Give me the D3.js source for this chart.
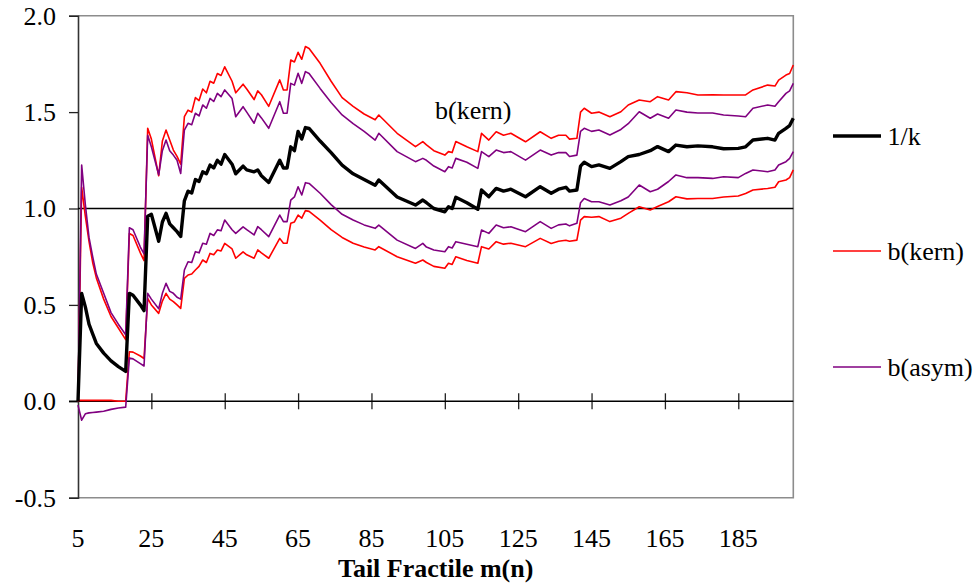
<!DOCTYPE html>
<html>
<head>
<meta charset="utf-8">
<script src="https://cdn.jsdelivr.net/npm/d3@7"></script>
<style>
  html, body { margin: 0; padding: 0; background: #fff; }
  svg { display: block; }
</style>
</head>
<body>
<svg id="chart" width="977" height="588"></svg>
<script>
// Tail fractile m(n)
const m = [
  5, 6, 7, 8, 9, 10, 12, 14, 16, 18,
  19, 20, 22, 23, 24, 25, 27, 28, 29, 30,
  31, 32, 33, 34, 35, 36, 37, 38, 39, 40,
  41, 42, 43, 44, 45, 47, 48, 50, 51, 53,
  54, 55, 57, 60, 61, 62, 63, 64, 65, 66,
  67, 68, 71, 74, 77, 80, 83, 86, 87, 92,
  97, 99, 100, 102, 105, 106, 107, 108, 111, 114,
  115, 117, 119, 121, 123, 127, 131, 134, 136, 138,
  139, 141, 142, 143, 145, 147, 150, 153, 155, 158,
  161, 163, 166, 168, 171, 174, 178, 181, 185, 187,
  189, 193, 195, 196, 198, 199, 200
];

// 1/k estimate
const invK = [
  0.00, 0.56, 0.49, 0.40, 0.35, 0.30, 0.25, 0.21, 0.18, 0.155,
  0.56, 0.55, 0.50, 0.47, 0.96, 0.97, 0.83, 0.93, 0.975, 0.92,
  0.90, 0.88, 0.855, 1.04, 1.09, 1.08, 1.15, 1.14, 1.19, 1.18,
  1.225, 1.21, 1.25, 1.23, 1.28, 1.23, 1.18, 1.22, 1.20, 1.19,
  1.20, 1.17, 1.135, 1.25, 1.21, 1.21, 1.32, 1.30, 1.40, 1.36,
  1.42, 1.415, 1.35, 1.29, 1.225, 1.18, 1.15, 1.12, 1.148, 1.06,
  1.018, 1.044, 1.03, 1.00, 0.983, 1.009, 1.00, 1.058, 1.03, 0.996,
  1.096, 1.061, 1.104, 1.09, 1.10, 1.061, 1.113, 1.079, 1.10, 1.11,
  1.09, 1.096, 1.22, 1.24, 1.217, 1.226, 1.208, 1.243, 1.269, 1.28,
  1.30, 1.321, 1.295, 1.329, 1.32, 1.325, 1.32, 1.31, 1.312, 1.32,
  1.355, 1.364, 1.355, 1.39, 1.416, 1.43, 1.468
];

// b(kern) band, upper and lower
const kernHigh = [
  0.00, 1.11, 0.96, 0.83, 0.72, 0.64, 0.53, 0.44, 0.38, 0.32,
  0.87, 0.86, 0.77, 0.73, 1.416, 1.36, 1.17, 1.35, 1.407, 1.355,
  1.303, 1.27, 1.23, 1.476, 1.51, 1.50, 1.575, 1.56, 1.62, 1.60,
  1.66, 1.65, 1.70, 1.69, 1.735, 1.66, 1.60, 1.645, 1.62, 1.565,
  1.61, 1.59, 1.53, 1.667, 1.615, 1.615, 1.77, 1.76, 1.81, 1.774,
  1.84, 1.83, 1.753, 1.66, 1.575, 1.53, 1.49, 1.46, 1.485, 1.39,
  1.321, 1.347, 1.33, 1.30, 1.277, 1.295, 1.29, 1.347, 1.32, 1.295,
  1.39, 1.355, 1.398, 1.38, 1.39, 1.346, 1.398, 1.364, 1.38, 1.38,
  1.36, 1.364, 1.50, 1.52, 1.494, 1.50, 1.476, 1.502, 1.537, 1.563,
  1.554, 1.58, 1.563, 1.606, 1.60, 1.589, 1.59, 1.589, 1.589, 1.589,
  1.615, 1.64, 1.635, 1.666, 1.692, 1.70, 1.744
];
const kernLow = [
  0.005, 0.005, 0.005, 0.005, 0.005, 0.005, 0.005, 0.005, 0.0, 0.0,
  0.257, 0.255, 0.235, 0.222, 0.534, 0.50, 0.456, 0.52, 0.56, 0.53,
  0.517, 0.50, 0.482, 0.638, 0.655, 0.66, 0.681, 0.70, 0.733, 0.72,
  0.767, 0.76, 0.785, 0.78, 0.819, 0.79, 0.742, 0.775, 0.76, 0.742,
  0.785, 0.77, 0.742, 0.845, 0.82, 0.82, 0.923, 0.93, 0.966, 0.95,
  0.989, 0.985, 0.94, 0.89, 0.85, 0.82, 0.80, 0.785, 0.802, 0.75,
  0.716, 0.733, 0.72, 0.70, 0.69, 0.716, 0.71, 0.75, 0.73, 0.716,
  0.802, 0.79, 0.828, 0.815, 0.82, 0.802, 0.845, 0.819, 0.83, 0.835,
  0.83, 0.836, 0.94, 0.958, 0.955, 0.958, 0.932, 0.95, 0.975, 1.009,
  0.992, 1.01, 1.035, 1.061, 1.05, 1.052, 1.052, 1.06, 1.065, 1.078,
  1.096, 1.104, 1.11, 1.139, 1.148, 1.16, 1.20
];

// b(asym) band, upper and lower
const asymHigh = [
  0.00, 1.225, 1.02, 0.85, 0.75, 0.66, 0.56, 0.46, 0.40, 0.345,
  0.90, 0.89, 0.80, 0.765, 1.38, 1.32, 1.175, 1.30, 1.355, 1.30,
  1.277, 1.25, 1.182, 1.407, 1.442, 1.435, 1.494, 1.48, 1.537, 1.52,
  1.571, 1.555, 1.597, 1.58, 1.615, 1.57, 1.476, 1.528, 1.50, 1.442,
  1.494, 1.47, 1.416, 1.554, 1.494, 1.494, 1.649, 1.64, 1.701, 1.649,
  1.71, 1.70, 1.623, 1.55, 1.485, 1.44, 1.40, 1.355, 1.39, 1.295,
  1.243, 1.26, 1.25, 1.22, 1.191, 1.217, 1.21, 1.26, 1.24, 1.208,
  1.295, 1.269, 1.303, 1.29, 1.295, 1.251, 1.303, 1.277, 1.29, 1.29,
  1.27, 1.277, 1.40, 1.416, 1.40, 1.407, 1.381, 1.41, 1.44, 1.502,
  1.468, 1.49, 1.468, 1.511, 1.50, 1.495, 1.495, 1.485, 1.48, 1.476,
  1.52, 1.537, 1.53, 1.554, 1.597, 1.61, 1.649
];
const asymLow = [
  -0.02, -0.098, -0.065, -0.06, -0.058, -0.056, -0.052, -0.042, -0.035, -0.03,
  0.225, 0.22, 0.195, 0.183, 0.56, 0.53, 0.48, 0.56, 0.612, 0.57,
  0.56, 0.54, 0.53, 0.681, 0.724, 0.72, 0.776, 0.77, 0.82, 0.815,
  0.871, 0.86, 0.889, 0.885, 0.94, 0.89, 0.871, 0.905, 0.89, 0.863,
  0.906, 0.89, 0.854, 0.966, 0.932, 0.932, 1.044, 1.06, 1.113, 1.07,
  1.134, 1.13, 1.079, 1.02, 0.97, 0.94, 0.915, 0.897, 0.914, 0.836,
  0.793, 0.819, 0.80, 0.785, 0.776, 0.802, 0.795, 0.828, 0.815, 0.802,
  0.888, 0.871, 0.914, 0.90, 0.905, 0.88, 0.932, 0.897, 0.915, 0.92,
  0.91, 0.923, 1.03, 1.052, 1.035, 1.035, 1.018, 1.04, 1.06, 1.122,
  1.087, 1.10, 1.14, 1.174, 1.16, 1.16, 1.156, 1.165, 1.16, 1.182,
  1.20, 1.191, 1.20, 1.226, 1.243, 1.26, 1.295
];

const xTicks = [25, 45, 65, 85, 105, 125, 145, 165, 185];
const xTickLabels = ["5", "25", "45", "65", "85", "105", "125", "145", "165", "185"];
const yTicks = [-0.5, 0.0, 0.5, 1.0, 1.5, 2.0];
const legendLabels = ["1/k", "b(kern)", "b(asym)"];

const FONT = "'Liberation Serif'";

const svg = d3.select("#chart");
const plot = { left: 78, right: 793.3, top: 15.7, bottom: 497.7 };

const x = d3.scaleLinear().domain([5, 200]).range([plot.left, plot.right]);
const y = d3.scaleLinear().domain([-0.5, 2.0]).range([plot.bottom, plot.top]);

// apply the serif face to a text selection
const serif = (sel, size, weight) => sel
  .attr("font-family", null)
  .style("font-family", FONT)
  .attr("font-size", size)
  .attr("font-weight", weight || "normal")
  .attr("fill", "#000");

// plot frame (top, right, bottom in grey)
svg.append("path")
  .attr("d", `M${plot.left},${plot.top}H${plot.right}V${plot.bottom}H${plot.left}`)
  .attr("fill", "none").attr("stroke", "#8c8c8c").attr("stroke-width", 1.6);

// y axis
const yAxis = d3.axisLeft(y).tickValues(yTicks).tickSize(9).tickPadding(13)
  .tickFormat(d3.format(".1f"));
const gy = svg.append("g").attr("transform", `translate(${plot.left},0)`).call(yAxis);
gy.attr("font-family", null).attr("font-size", null);
gy.select(".domain").attr("stroke", "#333").attr("stroke-width", 1.6);
gy.selectAll(".tick line").attr("stroke", "#222").attr("stroke-width", 1.3);
gy.selectAll(".tick text")
  .call(serif, 26)
  .text(d => d3.format(".1f")(d).replace("\u2212", "-"));

// reference line at 1.0
svg.append("line")
  .attr("x1", plot.left).attr("x2", plot.right)
  .attr("y1", y(1)).attr("y2", y(1))
  .attr("stroke", "#000").attr("stroke-width", 1.4);

// x axis along zero, ticks crossing it
const xAxis = d3.axisBottom(x).tickValues(xTicks).tickSize(0).tickFormat("");
const gx = svg.append("g").attr("transform", `translate(0,${y(0)})`).call(xAxis);
gx.select(".domain").remove();
gx.append("line")
  .attr("x1", plot.left - 9).attr("x2", plot.right)
  .attr("stroke", "#000").attr("stroke-width", 1.4);
gx.selectAll(".tick line").attr("y1", -8).attr("y2", 8)
  .attr("stroke", "#222").attr("stroke-width", 1.3);

// category labels below the frame
svg.append("g").selectAll("text")
  .data(xTickLabels)
  .join("text")
  .attr("x", d => x(+d))
  .attr("y", 546.5)
  .attr("text-anchor", "middle")
  .call(serif, 26)
  .text(d => d);

// axis title
svg.append("text")
  .attr("x", (plot.left + plot.right) / 2)
  .attr("y", 577)
  .attr("text-anchor", "middle")
  .call(serif, 26, "bold")
  .text("Tail Fractile m(n)");

// series
const line = vals => d3.line()
  .x((d, i) => x(m[i]))
  .y(d => y(d))(vals);

const series = [
  { vals: kernLow,  color: "#ff0000", width: 1.6 },
  { vals: kernHigh, color: "#ff0000", width: 1.6 },
  { vals: asymLow,  color: "#800080", width: 1.6 },
  { vals: asymHigh, color: "#800080", width: 1.6 },
  { vals: invK,     color: "#000000", width: 3.4 }
];
svg.append("g").selectAll("path")
  .data(series)
  .join("path")
  .attr("d", s => line(s.vals))
  .attr("fill", "none")
  .attr("stroke", s => s.color)
  .attr("stroke-width", s => s.width)
  .attr("stroke-linejoin", "round");

// in-plot label
svg.append("text")
  .attr("x", 435).attr("y", 118.5)
  .call(serif, 26)
  .text("b(kern)");

// legend
const legendItems = [
  { label: legendLabels[0], color: "#000000", width: 3.4, y: 136 },
  { label: legendLabels[1], color: "#ff0000", width: 1.6, y: 251 },
  { label: legendLabels[2], color: "#800080", width: 1.6, y: 367 }
];
const lg = svg.append("g").selectAll("g").data(legendItems).join("g")
  .attr("transform", d => `translate(0,${d.y})`);
lg.append("line")
  .attr("x1", 833).attr("x2", 881)
  .attr("stroke", d => d.color).attr("stroke-width", d => d.width);
lg.append("text")
  .attr("x", 887.5).attr("y", 0).attr("dy", "0.33em")
  .call(serif, 26)
  .text(d => d.label);
</script>
</body>
</html>
